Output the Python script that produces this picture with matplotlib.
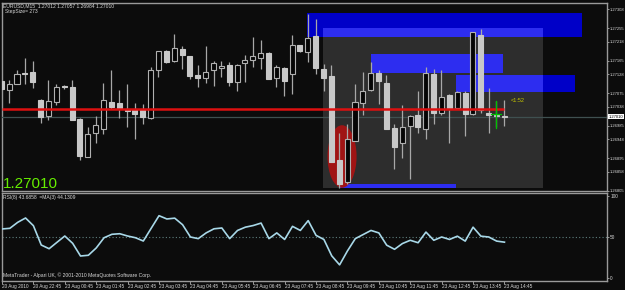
import matplotlib
matplotlib.use('Agg')
import matplotlib.pyplot as plt
from matplotlib.patches import Rectangle, Ellipse
import matplotlib.transforms as mtransforms
from matplotlib import font_manager

# ---------------- data ----------------
opens = [1.27110, 1.27084, 1.27100, 1.27132, 1.27134, 1.27056, 1.27013, 1.27050, 1.27094, 1.27093,
         1.27003, 1.26899, 1.26964, 1.26977, 1.27051, 1.27048, 1.27031, 1.27030, 1.27030, 1.27007,
         1.27139, 1.27193, 1.27163, 1.27197, 1.27179, 1.27125, 1.27117, 1.27139, 1.27145, 1.27152,
         1.27106, 1.27158, 1.27167, 1.27173, 1.27186, 1.27117, 1.27145, 1.27128, 1.27209, 1.27188,
         1.27233, 1.27141, 1.27123, 1.26889, 1.26830, 1.26944, 1.27049, 1.27084, 1.27132, 1.27102,
         1.26978, 1.26937, 1.26983, 1.27014, 1.26977, 1.27129, 1.27019, 1.27070, 1.27035, 1.27076,
         1.27018, 1.27237, 1.27021, 1.27015, 1.27012]
highs = [1.27112, 1.27112, 1.27139, 1.27173, 1.27165, 1.27058, 1.27113, 1.27100, 1.27098, 1.27112,
         1.27007, 1.26981, 1.27012, 1.27102, 1.27140, 1.27084, 1.27100, 1.27049, 1.27044, 1.27147,
         1.27193, 1.27195, 1.27238, 1.27207, 1.27179, 1.27152, 1.27207, 1.27165, 1.27163, 1.27161,
         1.27156, 1.27182, 1.27231, 1.27223, 1.27189, 1.27152, 1.27149, 1.27235, 1.27209, 1.27294,
         1.27280, 1.27156, 1.27153, 1.26965, 1.26989, 1.27100, 1.27133, 1.27161, 1.27139, 1.27126,
         1.26990, 1.27043, 1.27016, 1.27080, 1.27147, 1.27142, 1.27140, 1.27072, 1.27082, 1.27082,
         1.27244, 1.27254, 1.27089, 1.27054, 1.27057]
lows = [1.27063, 1.27047, 1.27100, 1.27100, 1.27089, 1.26993, 1.27002, 1.27042, 1.27086, 1.27000,
        1.26891, 1.26899, 1.26937, 1.26961, 1.27030, 1.27007, 1.26981, 1.26947, 1.26989, 1.27005,
        1.27119, 1.27158, 1.27161, 1.27142, 1.27114, 1.27091, 1.27103, 1.27096, 1.27119, 1.27096,
        1.27082, 1.27105, 1.27147, 1.27142, 1.27114, 1.27091, 1.27068, 1.27074, 1.27189, 1.27161,
        1.27128, 1.27080, 1.26886, 1.26814, 1.26825, 1.26942, 1.27016, 1.27082, 1.27046, 1.26975,
        1.26866, 1.26895, 1.26839, 1.26965, 1.26948, 1.26989, 1.27016, 1.26937, 1.27033, 1.26956,
        1.27016, 1.27021, 1.26965, 1.26981, 1.26984]
closes = [1.27086, 1.27100, 1.27128, 1.27129, 1.27106, 1.27009, 1.27054, 1.27093, 1.27092, 1.27002,
          1.26901, 1.26961, 1.26986, 1.27056, 1.27038, 1.27033, 1.27026, 1.27018, 1.27009, 1.27138,
          1.27193, 1.27161, 1.27201, 1.27181, 1.27122, 1.27116, 1.27135, 1.27158, 1.27151, 1.27107,
          1.27153, 1.27168, 1.27177, 1.27187, 1.27114, 1.27148, 1.27109, 1.27209, 1.27192, 1.27229,
          1.27145, 1.27116, 1.26886, 1.26825, 1.26949, 1.27050, 1.27082, 1.27131, 1.27110, 1.26976,
          1.26927, 1.26981, 1.27011, 1.26981, 1.27131, 1.27019, 1.27064, 1.27033, 1.27079, 1.27018,
          1.27244, 1.27029, 1.27015, 1.27013, 1.27010]
rsi = [59.8, 60.6, 67.9, 73.2, 63.8, 40.2, 35.7, 43.5, 51.2, 42.3,
       26.8, 27.7, 36.6, 49.1, 53.3, 54.0, 51.2, 49.1, 45.1, 60.6,
       76.0, 72.0, 73.0, 65.0, 50.0, 48.0, 55.0, 60.0, 61.0, 48.0,
       58.0, 62.0, 64.0, 67.0, 48.0, 55.0, 47.0, 63.0, 58.0, 70.0,
       52.0, 47.0, 27.0, 16.0, 33.0, 48.0, 53.0, 58.0, 55.0, 40.0,
       35.0, 42.0, 46.0, 43.0, 56.0, 46.0, 50.0, 47.0, 51.0, 45.0,
       62.0, 51.0, 50.0, 45.0, 43.7]
time_labels = ["20 Aug 2010", "20 Aug 22:45", "23 Aug 00:45", "23 Aug 01:45", "23 Aug 02:45",
               "23 Aug 03:45", "23 Aug 04:45", "23 Aug 05:45", "23 Aug 06:45", "23 Aug 07:45",
               "23 Aug 08:45", "23 Aug 09:45", "23 Aug 10:45", "23 Aug 11:45", "23 Aug 12:45",
               "23 Aug 13:45", "23 Aug 14:45"]
time_label_bars = [0, 4, 8, 12, 16, 20, 24, 28, 32, 36, 40, 44, 48, 52, 56, 60, 64]
price_ticks = [1.27308, 1.27255, 1.27218, 1.27165, 1.27128, 1.27075, 1.27038,
               1.26985, 1.26948, 1.26895, 1.26858, 1.26805]
rsi_ticks = [0, 50, 100]
current_price = 1.27010
red_level = 1.27032
# chart objects: (bar_from, bar_to, price_low, price_high)
grey_box = (40.9, 68.9, 1.26813, 1.27255)
blue_boxes = [(38.9, 73.9, 1.27230, 1.27297),
              (47.0, 63.8, 1.27132, 1.27185),
              (57.9, 72.95, 1.27079, 1.27126),
              (43.1, 57.9, 1.26813, 1.26825)]
ellipse_obj = (43.35, 1.26900, 3.7, 0.00173)

# ---------------- style ----------------
_names = {f.name for f in font_manager.fontManager.ttflist}
SMALL = 'Liberation Sans Narrow' if 'Liberation Sans Narrow' in _names else 'Liberation Sans'
BG = '#0c0c0c'
FRAME = '#9a9a9a'
TXT = '#d8d8d8'
W, H = 625, 290
fig = plt.figure(figsize=(W / 100, H / 100), dpi=100, facecolor=BG)


def px_axes(x0, y0, x1, y1):
    return fig.add_axes([x0 / W, 1 - y1 / H, (x1 - x0) / W, (y1 - y0) / H])


ax = px_axes(2, 3, 607, 191)
ax2 = px_axes(2, 193, 607, 281)
for a in (ax, ax2):
    a.set_facecolor(BG)
    for s in a.spines.values():
        s.set_color(FRAME)
        s.set_linewidth(1)
    a.set_xlim(0.09, 77.06)

ax.set_ylim(1.268044, 1.273248)
ax2.set_ylim(-3.7, 103.7)

# chart objects
gx0, gx1, gy0, gy1 = grey_box
ax.add_patch(Rectangle((gx0, gy0), gx1 - gx0, gy1 - gy0, facecolor='#2d2d2d', edgecolor='none', zorder=1))
for (bx0, bx1, by0, by1) in blue_boxes:
    ax.add_patch(Rectangle((bx0, by0), bx1 - bx0, by1 - by0, facecolor='#0000c8', edgecolor='none', zorder=2))
    ox0, ox1 = max(bx0, gx0), min(bx1, gx1)
    oy0, oy1 = max(by0, gy0), min(by1, gy1)
    if ox1 > ox0 and oy1 > oy0:
        ax.add_patch(Rectangle((ox0, oy0), ox1 - ox0, oy1 - oy0, facecolor='#2d2df0', edgecolor='none', zorder=2.1))
ex, ey, ew, eh = ellipse_obj
ax.add_patch(Ellipse((ex, ey), ew, eh, facecolor='#a01414', edgecolor='none', zorder=2.5))

# bid line
ax.axhline(current_price, color='#3f5050', lw=0.9, zorder=2.6)

# candles
n = len(opens)
xs = list(range(n))
ax.vlines(xs, lows, highs, color='#a8a8a8', lw=0.9, zorder=3)
for i in xs:
    o, c = opens[i], closes[i]
    lo, hi = min(o, c), max(o, c)
    if hi - lo < 0.000015:
        hi = lo + 0.000015
    if c < o:
        fc, ec = '#c8c8c8', '#c8c8c8'
    else:
        fc, ec = '#050505', '#b0b0b0'
    ax.add_patch(Rectangle((i - 0.32, lo), 0.64, hi - lo, facecolor=fc, edgecolor=ec, lw=0.8, zorder=4))

# red level line
ax.plot([0.09, n - 1], [red_level, red_level], color='#dd1010', lw=1.8, zorder=5, solid_capstyle='butt')

# green cross & countdown
ax.plot([n - 2, n - 2], [1.26979, 1.27054], color='#00c000', lw=0.9, zorder=6)
ax.plot([n - 2.7, n - 1.4], [1.27017, 1.27017], color='#00c000', lw=0.9, zorder=6)
ax.text(n - 0.15, 1.27054, "<1:52", color='#c8c800', fontsize=4, va='center', ha='left', zorder=6,
        family=SMALL)

# price axis
ax.yaxis.tick_right()
ax.set_yticks(price_ticks)
ax.set_yticklabels([f"{p:.5f}" for p in price_ticks], family=SMALL)
ax.tick_params(axis='y', colors=FRAME, labelcolor=TXT, labelsize=3.0, length=1.5, pad=0.5, width=0.7)
ax.set_xticks([])
trans = mtransforms.blended_transform_factory(ax.transAxes, ax.transData)
ax.text(1.0025, current_price, f"{current_price:.5f}", transform=trans, fontsize=3.0, color='black',
        va='center', ha='left', clip_on=False, zorder=10, family=SMALL,
        bbox=dict(boxstyle='square,pad=0.12', facecolor='white', edgecolor='none'))

# texts main
fig.text(3 / W, 1 - 6 / H, "EURUSD,M15  1.27012 1.27057 1.26984 1.27010", color=TXT, fontsize=3.6,
         va='center', ha='left', family=SMALL)
fig.text(5 / W, 1 - 11 / H, "StepSize= 273", color=TXT, fontsize=3.6, va='center', ha='left', family=SMALL)
fig.text(3 / W, 1 - 188 / H, "1.27010", color='#66ee00', fontsize=11, va='baseline', ha='left',
         family='Liberation Sans')

# RSI panel
ax2.plot(xs, rsi, color='#a8d8e8', lw=1.2, zorder=3)
ax2.axhline(50, color='#5f7f7f', lw=0.8, ls=(0, (1, 2)), zorder=2)
ax2.yaxis.tick_right()
ax2.set_yticks(rsi_ticks)
ax2.set_yticklabels([str(v) for v in rsi_ticks], family=SMALL)
ax2.tick_params(axis='y', colors=FRAME, labelcolor=TXT, labelsize=3.4, length=1.5, pad=0.8, width=0.7)
ax2.set_xticks(time_label_bars)
ax2.set_xticklabels(time_labels, family=SMALL)
ax2.tick_params(axis='x', colors=FRAME, labelcolor=TXT, labelsize=3.4, length=2, pad=0.5, width=0.7)
for lab in ax2.get_xticklabels():
    lab.set_ha('left')
fig.text(3 / W, 1 - 198 / H, "RSI(8) 43.6858  =MA(3) 44.1309", color=TXT, fontsize=3.6, va='center',
         ha='left', family=SMALL)
fig.text(3 / W, 1 - 275 / H, "MetaTrader - Alpari UK, \u00a9 2001-2010 MetaQuotes Software Corp.", color=TXT,
         fontsize=3.6, va='center', ha='left', family=SMALL)

fig.savefig('out.png', dpi=100, facecolor=BG)
